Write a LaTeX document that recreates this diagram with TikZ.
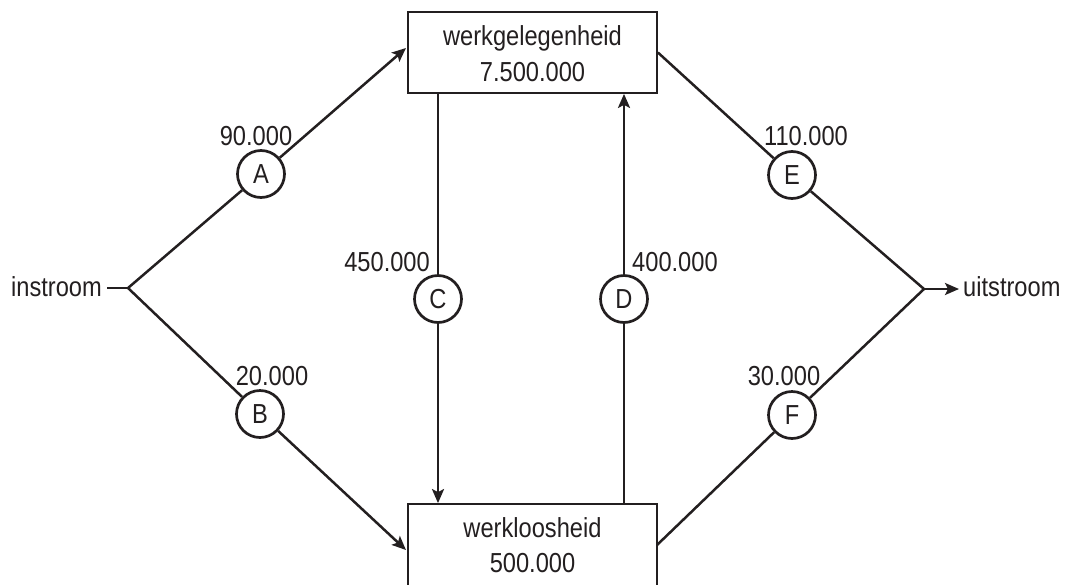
\documentclass[tikz,border=0pt]{standalone}
\usepackage{fontspec}
\setmainfont[FakeStretch=0.86]{Liberation Sans}
\usetikzlibrary{arrows.meta}
\definecolor{ink}{HTML}{231F20}
\tikzset{
  lbl/.style={inner sep=0pt, text=ink, font=\fontsize{27.5}{32}\selectfont},
  boxnode/.style={draw=ink, line width=1.8pt, minimum width=249pt, inner sep=0pt},
  flow/.style={draw=ink, line width=2.5pt},
  arr/.style={flow, -{Stealth[length=14pt,width=12pt,inset=3pt]}},
  letter/.style={circle, draw=ink, line width=2.7pt, fill=white, minimum size=47pt, inner sep=0pt, text=ink, font=\fontsize{27.5}{32}\selectfont},
}
\begin{document}
\begin{tikzpicture}[x=1pt,y=-1pt]
\useasboundingbox (0,0) rectangle (1070,584);
\clip (0,0) rectangle (1070,584);
% boxes
\node[boxnode, minimum height=81pt] (werk) at (532.5,52.5) {};
\node[boxnode, minimum height=82pt] (wl) at (532.5,545) {};
\node[lbl, anchor=base] (werkT1) at (532.5,45) {werkgelegenheid};
\node[lbl, anchor=base] (werkT2) at (532.5,81) {7.500.000};
\node[lbl, anchor=base] (wlT1) at (532.5,537) {werkloosheid};
\node[lbl, anchor=base] (wlT2) at (532.5,572) {500.000};
% in / out
\node[lbl, anchor=base east] (in) at (102,296) {instroom};
\node[lbl, anchor=base west] (out) at (963,296) {uitstroom};
\coordinate (inL) at (107,288);
\coordinate (j1) at (128,288);
\coordinate (j2) at (924,289);
\coordinate (outT) at (959,289);
\coordinate (tA) at (406,48);
\coordinate (tB) at (406,550);
\coordinate (wlE) at (657,545);
% circles
\node[letter] (A) at (261,174) {A};
\node[letter] (B) at (260,414) {B};
\node[letter] (C) at (438,299) {C};
\node[letter] (D) at (624,299) {D};
\node[letter] (E) at (792,175) {E};
\node[letter] (F) at (792,415) {F};
% connectors
\draw[flow] (inL) -- (j1);
\draw[flow] (j1) -- (A);
\draw[arr] (A) -- (tA);
\draw[flow] (j1) -- (B);
\draw[arr] (B) -- (tB);
\draw[flow] (C |- werk.south) -- (C);
\draw[arr] (C) -- (C |- wl.north);
\draw[flow] (D |- wl.north) -- (D);
\draw[arr] (D) -- (D |- werk.south);
\draw[flow] (werk.east) -- (E);
\draw[flow] (E) -- (j2);
\draw[flow] (wlE) -- (F);
\draw[flow] (F) -- (j2);
\draw[arr] (j2) -- (outT);
% flow labels
\node[lbl, anchor=base] (lA) at (256,145) {90.000};
\node[lbl, anchor=base] (lB) at (272,385) {20.000};
\node[lbl, anchor=base east] (lC) at (430,271) {450.000};
\node[lbl, anchor=base west] (lD) at (632,271) {400.000};
\node[lbl, anchor=base] (lE) at (806,145) {110.000};
\node[lbl, anchor=base] (lF) at (784,385) {30.000};
\end{tikzpicture}
\end{document}
